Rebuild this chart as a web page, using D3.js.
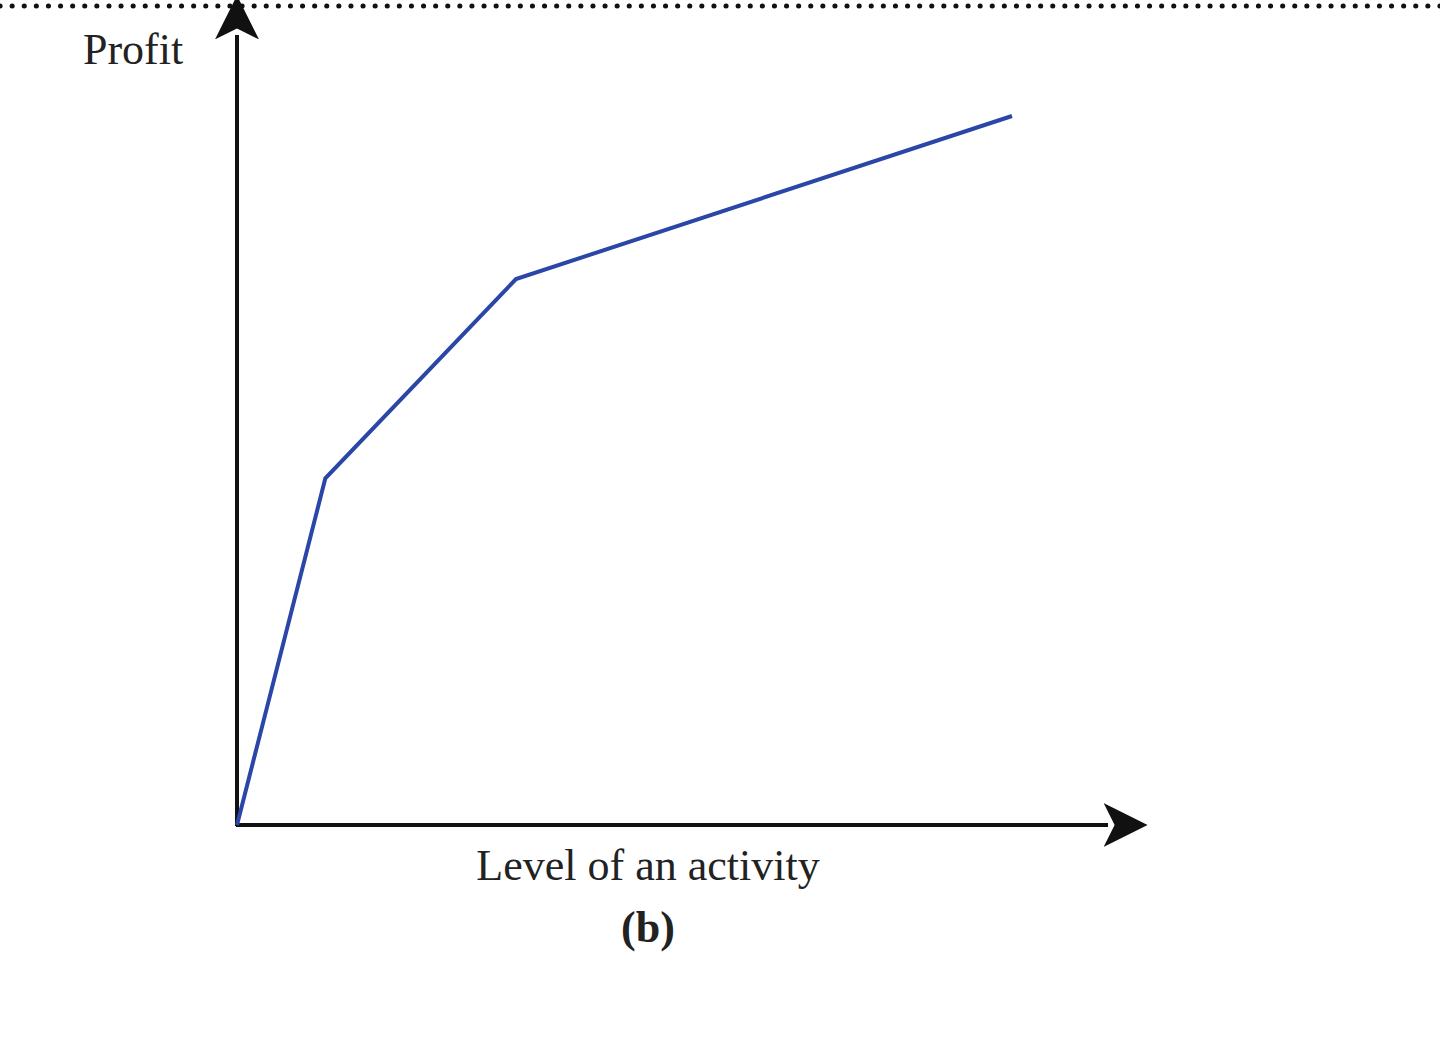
<!DOCTYPE html>
<html><head><meta charset="utf-8">
<script src="https://cdn.jsdelivr.net/npm/d3@7"></script>
<style>body{margin:0;background:#fff}</style>
</head><body>
<script>
// profit curve breakpoints (level, profit)
var levels=[0,1.14,3.6,10];
var profits=[0,4.89,7.7,10];

var svg=d3.select('body').append('svg').attr('width',1440).attr('height',1054);
var x=d3.scaleLinear().domain([0,10]).range([237,1012]);
var y=d3.scaleLinear().domain([0,10]).range([825,116]);

// dotted rule at top
svg.append('line').attr('x1',0).attr('x2',1440).attr('y1',6).attr('y2',6)
  .attr('stroke','#111').attr('stroke-width',5).attr('stroke-linecap','round')
  .attr('stroke-dasharray','0.1 12');

var defs=svg.append('defs');
defs.append('marker').attr('id','arr').attr('viewBox','0 0 10 10').attr('refX',1).attr('refY',5)
  .attr('markerWidth',14).attr('markerHeight',14).attr('markerUnits','userSpaceOnUse')
  .attr('orient','auto')
  .append('path').attr('d','M0,0 L10,5 L0,10 L2.5,5 Z').attr('fill','#111');
defs.select('marker').attr('markerWidth',44).attr('markerHeight',44);

svg.append('line').attr('x1',237).attr('y1',826).attr('x2',237).attr('y2',35)
  .attr('stroke','#111').attr('stroke-width',4).attr('marker-end','url(#arr)');
svg.append('line').attr('x1',236).attr('y1',825).attr('x2',1108).attr('y2',825)
  .attr('stroke','#111').attr('stroke-width',4).attr('marker-end','url(#arr)');

var pts=levels.map(function(d,i){return [d,profits[i]];});
svg.append('path').datum(pts)
  .attr('d',d3.line().x(function(d){return x(d[0]);}).y(function(d){return y(d[1]);}))
  .attr('fill','none').attr('stroke','#2a46a6').attr('stroke-width',4);

svg.append('text').attr('x',83).attr('y',64).text('Profit')
  .style('font-family','Liberation Serif').style('font-size','44px').style('fill','#222');
svg.append('text').attr('x',648).attr('y',880).attr('text-anchor','middle').text('Level of an activity')
  .style('font-family','Liberation Serif').style('font-size','44px').style('fill','#222');
svg.append('text').attr('x',648).attr('y',942).attr('text-anchor','middle').text('(b)')
  .style('font-family','Liberation Serif').style('font-size','44px').style('font-weight','bold').style('fill','#222');
</script>
</body></html>
